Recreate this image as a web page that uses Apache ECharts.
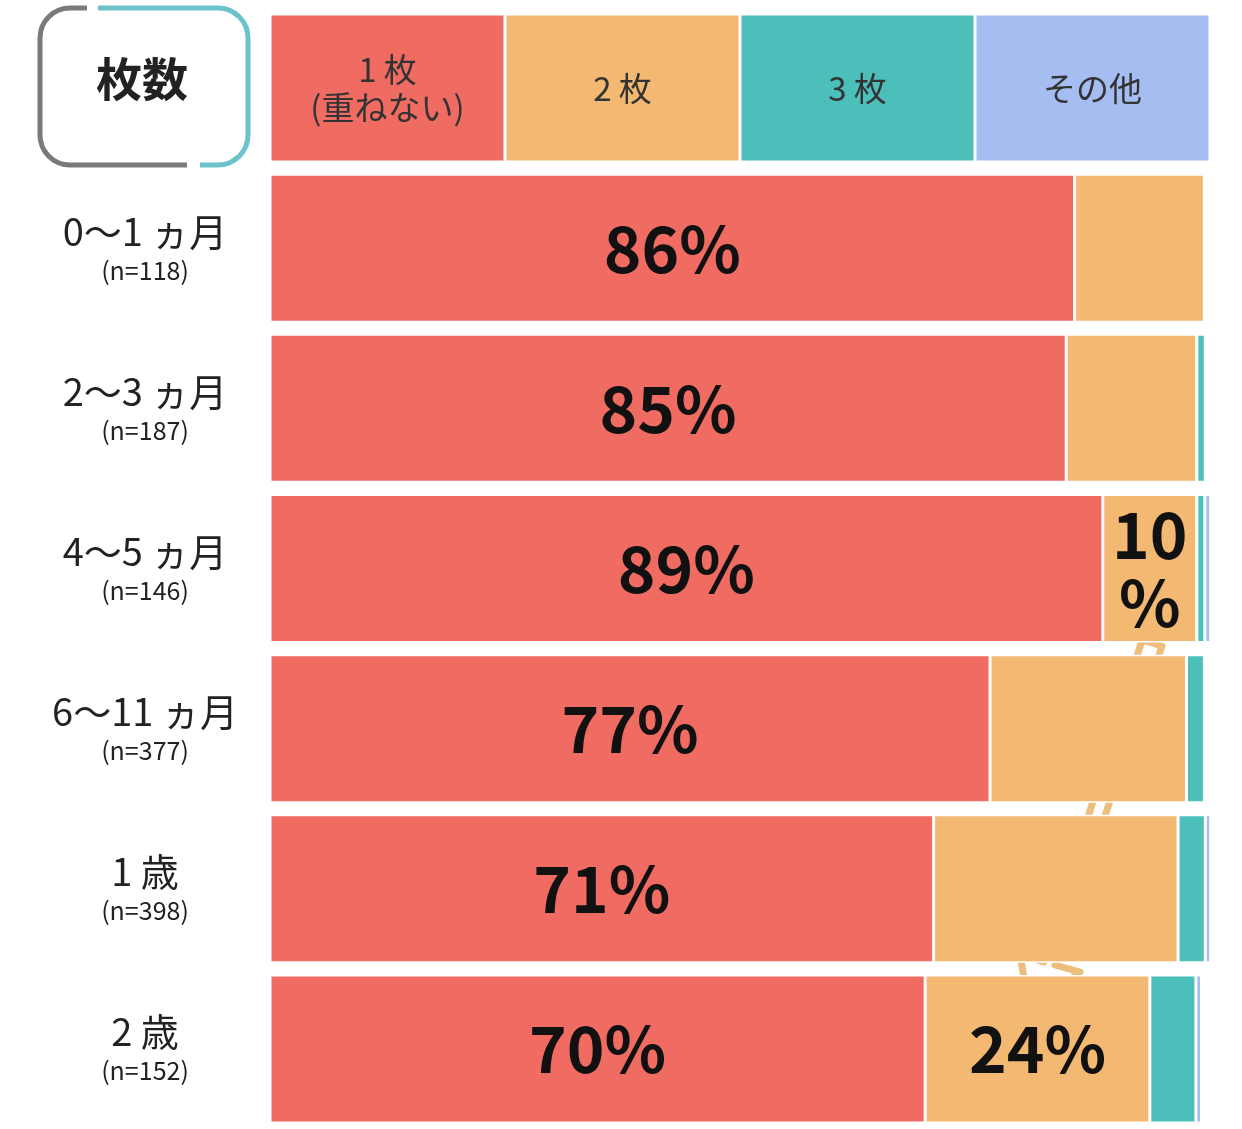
<!DOCTYPE html>
<html><head><meta charset="utf-8">
<script src="https://cdn.jsdelivr.net/npm/echarts@6/dist/echarts.min.js"></script>
<style>html,body{margin:0;padding:0;background:#fff}#c{width:1242px;height:1129px}</style>
</head><body><div id="c"></div>
<script>
const categories = ['header','0～1 ヵ月','2～3 ヵ月','4～5 ヵ月','6～11 ヵ月','1 歳','2 歳'];
const sampleSizes = ['', 'n=118','n=187','n=146','n=377','n=398','n=152'];
const seriesNames = ['1 枚\n(重ねない)','2 枚','3 枚','その他'];
const one   = [25, 85.6, 84.7, 88.6, 76.6, 70.6, 69.7];
const two   = [25, 13.8, 13.9, 10.0, 20.9, 26.0, 23.9];
const three = [25, 0,    0.9,  0.85, 1.9,  2.9,  4.9];
const other = [25, 0,    0,    0.75, 0,    0.6,  0.6];
const colors = ['#f06b62','#f3b872','#4dbfbb','#a5bdf1'];
const ff = '"Noto Sans CJK JP","Noto Sans",sans-serif';

function mk(i, vals, bigLabelRows, splitLabel){
  return {
    name: seriesNames[i], type:'bar', stack:'s', barWidth:148,
    itemStyle:{color:colors[i], borderColor:'#fff', borderWidth:1.5},
    data: vals.map((v,r)=>{
      const d = {value:v};
      if(r===0){
        d.label={show:true, formatter:seriesNames[i], fontSize:33, color:'#333', fontFamily:ff, lineHeight:38, fontWeight:'normal'};
      } else if(bigLabelRows.includes(r)){
        d.label={show:true, formatter: (splitLabel && r===3) ? Math.round(v)+'\n%' : Math.round(v)+'%',
          fontSize:64, fontWeight:'bold', color:'#111', fontFamily:ff, lineHeight:68};
      } else d.label={show:false};
      return d;
    })
  };
}
const chart = echarts.init(document.getElementById('c'));
const dataRows=[1,2,3,4,5,6];
const teal = {stroke:'#6cc3cb', lineWidth:5, fill:null};
chart.setOption({
  animation:false,
  grid:{left:270, right:32, top:8, bottom:-2},
  xAxis:{type:'value', min:0, max:100, show:false},
  yAxis:{type:'category', data:categories, inverse:true,
    axisLine:{show:false}, axisTick:{show:false},
    axisLabel:{margin:125, align:'center', fontFamily:ff,
      formatter:(v,i)=> i===0 ? '' : '{a|'+v+'}\n{b|('+sampleSizes[i]+')}',
      rich:{a:{fontSize:38, color:'#222', lineHeight:44, fontFamily:ff},
            b:{fontSize:25, color:'#222', lineHeight:34, fontFamily:ff}}}},
  series:[
    mk(0, one, dataRows, false),
    mk(1, two, [3,6], true),
    mk(2, three, [], false),
    mk(3, other, [], false)
  ],
  graphic:[
    {type:'rect', shape:{x:40,y:8,width:208,height:157,r:30}, style:{fill:null, stroke:'#7a7a7a', lineWidth:5}},
    {type:'rect', shape:{x:87,y:2,width:12,height:12}, style:{fill:'#fff'}},
    {type:'rect', shape:{x:187,y:159,width:14,height:12}, style:{fill:'#fff'}},
    {type:'rect', shape:{x:99,y:2,width:150,height:12}, style:{fill:'#fff'}},
    {type:'rect', shape:{x:236,y:10,width:16,height:160}, style:{fill:'#fff'}},
    {type:'rect', shape:{x:201,y:159,width:40,height:12}, style:{fill:'#fff'}},
    {type:'line', shape:{x1:98,y1:8,x2:218,y2:8}, style:teal},
    {type:'arc', shape:{cx:218,cy:38,r:30,startAngle:-Math.PI/2,endAngle:0,clockwise:true}, style:teal},
    {type:'line', shape:{x1:248,y1:38,x2:248,y2:135}, style:teal},
    {type:'arc', shape:{cx:218,cy:135,r:30,startAngle:0,endAngle:Math.PI/2,clockwise:true}, style:teal},
    {type:'line', shape:{x1:200,y1:165,x2:218,y2:165}, style:teal},
    {type:'text', left:96, top:56, style:{text:'枚数', fill:'#222', font:'bold 46px '+ff}},
    {type:'polygon', shape:{points:[[1142,640],[1162,646],[1055,965],[1080,972],[1030,1012],[1020,955],[1044,962]]},
      style:{fill:'#fff', stroke:'#edbd7c', lineWidth:7, lineJoin:'round'}}
  ]
});
</script></body></html>
